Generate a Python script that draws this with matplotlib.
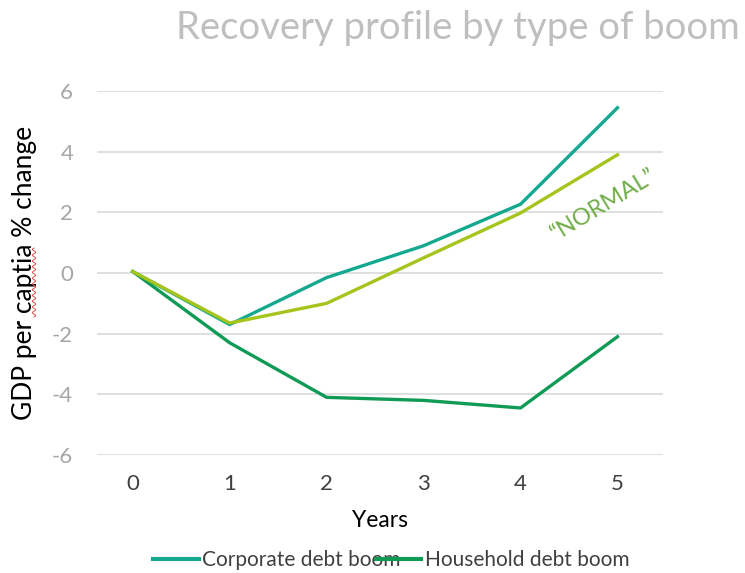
import numpy as np
import matplotlib.pyplot as plt
from matplotlib.lines import Line2D

plt.rcParams['font.family'] = ['Lato', 'DejaVu Sans']
plt.rcParams['axes.unicode_minus'] = False

years = [0, 1, 2, 3, 4, 5]
corporate = [0.05, -1.7, -0.15, 0.9, 2.27, 5.45]
household = [0.05, -2.3, -4.1, -4.2, -4.45, -2.1]
normal = [0.05, -1.65, -1.0, 0.5, 1.98, 3.9]

c_corp = '#14a98f'
c_house = '#0f9a55'
c_norm = '#a5c41c'

fig = plt.figure(figsize=(7.45, 5.73), dpi=100)
ax = fig.add_axes([0.13, 0.206, 0.76, 0.635])

ax.plot(years, normal, color=c_norm, lw=2.4, zorder=3)
ax.plot(years, corporate, color=c_corp, lw=2.4, zorder=2)
ax.plot(years, household, color=c_house, lw=2.4, zorder=2)

ax.set_ylim(-6, 6)
ax.set_xlim(-0.37, 5.47)
ax.set_yticks(range(-6, 7, 2))
ax.set_xticks(years)
ax.grid(axis='y', color='#d9d9d9', lw=1.2)
ax.set_axisbelow(True)
for s in ax.spines.values():
    s.set_visible(False)
ax.tick_params(axis='y', length=0, labelsize=16, labelcolor='#a6a6a6', pad=17)
ax.tick_params(axis='x', length=0, labelsize=16, labelcolor='#404040', pad=14)

ax.set_xlabel('Years', fontsize=16.5, color='black', labelpad=11)
ax.set_ylabel('GDP per captia % change', fontsize=19, color='black', labelpad=11)

fig.text(0.993, 0.952, 'Recovery profile by type of boom', ha='right', va='center',
         fontsize=27.5, color='#bfbfbf')

ax.text(4.86, 2.25, '\u201cNORMAL\u201d', color='#70ad47', fontsize=17,
        rotation=31, ha='center', va='center')

# spell-check squiggle under "captia"
sy = np.linspace(1 - 317 / 573, 1 - 248 / 573, 200)
sx = 34 / 745 + 0.0022 * np.sin(np.linspace(0, 2 * np.pi * 12, 200))
fig.add_artist(Line2D(sx, sy, color='#e05050', lw=0.7))

handles = [Line2D([], [], color=c_corp, lw=3), Line2D([], [], color=c_house, lw=3)]
fig.legend(handles, ['Corporate debt boom', 'Household debt boom'], loc='center',
           bbox_to_anchor=(0.525, 0.022), ncol=2, frameon=False, fontsize=15,
           handlelength=2.2, handletextpad=0.15, columnspacing=-1.2,
           labelcolor='#404040')

fig.savefig('out.png', dpi=100)
